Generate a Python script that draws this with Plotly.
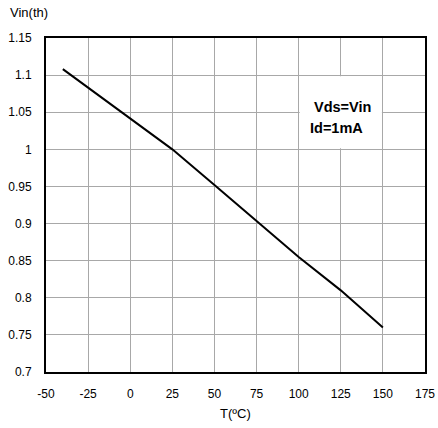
import plotly.graph_objects as go

temps = [-40, 0, 25, 50, 75, 100, 125, 150]
vin_th = [1.108, 1.042, 1.0, 0.952, 0.903, 0.855, 0.81, 0.76]
x_ticks = [-50, -25, 0, 25, 50, 75, 100, 125, 150, 175]
y_ticks = [0.7, 0.75, 0.8, 0.85, 0.9, 0.95, 1.0, 1.05, 1.1, 1.15]
y_tick_labels = ["0.7", "0.75", "0.8", "0.85", "0.9", "0.95", "1", "1.05", "1.1", "1.15"]

fig = go.Figure()
fig.add_trace(go.Scatter(x=temps, y=vin_th, mode="lines",
                         line=dict(color="black", width=2), showlegend=False))

fig.add_shape(type="rect", x0=100.6, x1=149.4, y0=1.0014, y1=1.0986, xref="x", yref="y",
              fillcolor="white", line=dict(width=0), layer="above")

font = dict(family="Liberation Sans, Arial, sans-serif", size=12, color="black")

fig.add_annotation(x=107.8, y=1.0577, text="<b>Vds=Vin</b>", showarrow=False,
                   xanchor="left", yanchor="middle", font=dict(font, size=14.5))
fig.add_annotation(x=105.4, y=1.0294, text="<b>Id=1mA</b>", showarrow=False,
                   xanchor="left", yanchor="middle", font=dict(font, size=14.5))

fig.add_annotation(x=-0.1003, y=1.075, xref="paper", yref="paper", text="Vin(th)",
                   showarrow=False, xanchor="left", yanchor="middle",
                   font=dict(font, size=13))
fig.add_annotation(x=0.501, y=-0.123, xref="paper", yref="paper", text="T(ºC)",
                   showarrow=False, xanchor="center", yanchor="middle",
                   font=dict(font, size=13))

fig.update_layout(
    width=438, height=428,
    margin=dict(l=46, r=13, t=38, b=56),
    paper_bgcolor="white", plot_bgcolor="white",
    font=font,
    xaxis=dict(range=[-50, 175], tickvals=x_ticks, ticktext=[str(v) for v in x_ticks],
               showgrid=True, gridcolor="#a8a8a8", gridwidth=1,
               showline=True, linecolor="black", linewidth=2, mirror=True,
               ticks="", ticklabelstandoff=10, zeroline=False, automargin=False),
    yaxis=dict(range=[0.7, 1.15], tickvals=y_ticks, ticktext=y_tick_labels,
               showgrid=True, gridcolor="#a8a8a8", gridwidth=1,
               showline=True, linecolor="black", linewidth=2, mirror=True,
               ticks="", ticklabelstandoff=10, zeroline=False, automargin=False),
)

fig.write_html("out.html", config={"displayModeBar": False},
               post_script="document.body.style.margin='0';document.body.style.overflow='hidden';")
